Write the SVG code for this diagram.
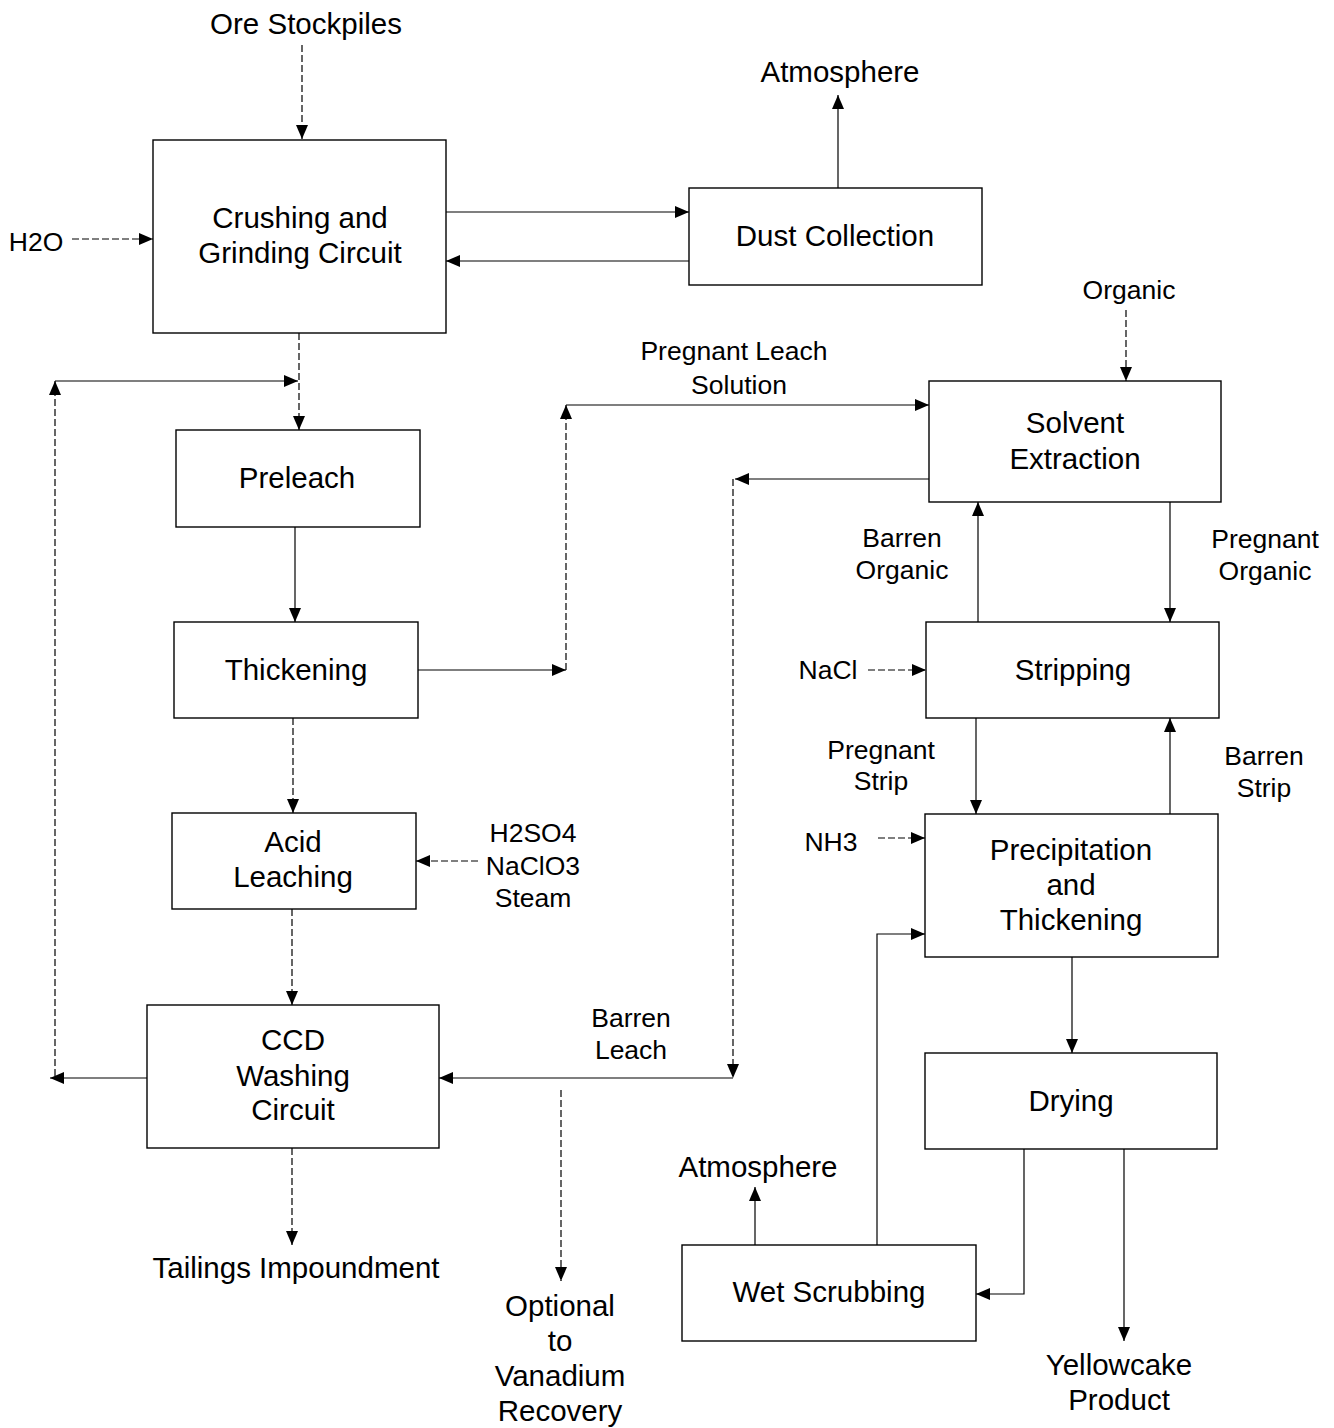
<svg xmlns="http://www.w3.org/2000/svg" width="1334" height="1428" viewBox="0 0 1334 1428">
<style>
.box{fill:#fff;stroke:#000;stroke-width:1.4}
.t{font-family:"Liberation Sans",Arial,sans-serif;font-size:29.5px;fill:#000;text-anchor:middle}
.l{font-family:"Liberation Sans",Arial,sans-serif;font-size:26.5px;fill:#000;text-anchor:middle}
.c{fill:none;stroke:#000;stroke-width:1.2}
.d{stroke-dasharray:7 3}
</style>
<defs>
<marker id="ah" markerUnits="userSpaceOnUse" markerWidth="15" markerHeight="12" refX="14" refY="6" orient="auto">
<path d="M0,0 L14,6 L0,12 z" fill="#000"/>
</marker>
</defs>
<rect width="1334" height="1428" fill="#fff"/>

<g id="connectors">
<line class="c d" x1="302" y1="45" x2="302" y2="139" marker-end="url(#ah)"/>
<line class="c d" x1="72" y1="239" x2="153" y2="239" marker-end="url(#ah)"/>
<line class="c" x1="446" y1="212" x2="689" y2="212" marker-end="url(#ah)"/>
<line class="c" x1="689" y1="261" x2="446" y2="261" marker-end="url(#ah)"/>
<line class="c" x1="838" y1="188" x2="838" y2="95" marker-end="url(#ah)"/>
<line class="c d" x1="299" y1="333" x2="299" y2="430" marker-end="url(#ah)"/>
<line class="c" x1="147" y1="1078" x2="50" y2="1078" marker-end="url(#ah)"/>
<line class="c d" x1="55" y1="1076" x2="55" y2="381" marker-end="url(#ah)"/>
<line class="c" x1="55" y1="381" x2="298" y2="381" marker-end="url(#ah)"/>
<line class="c" x1="295" y1="527" x2="295" y2="622" marker-end="url(#ah)"/>
<line class="c d" x1="293" y1="718" x2="293" y2="813" marker-end="url(#ah)"/>
<line class="c d" x1="292" y1="909" x2="292" y2="1005" marker-end="url(#ah)"/>
<line class="c d" x1="292" y1="1148" x2="292" y2="1245" marker-end="url(#ah)"/>
<line class="c d" x1="478" y1="861" x2="416" y2="861" marker-end="url(#ah)"/>
<line class="c" x1="418" y1="670" x2="566" y2="670" marker-end="url(#ah)"/>
<line class="c d" x1="566" y1="670" x2="566" y2="405" marker-end="url(#ah)"/>
<line class="c" x1="566" y1="405" x2="929" y2="405" marker-end="url(#ah)"/>
<line class="c" x1="929" y1="479" x2="735" y2="479" marker-end="url(#ah)"/>
<line class="c d" x1="733" y1="479" x2="733" y2="1078" marker-end="url(#ah)"/>
<line class="c" x1="733" y1="1078" x2="439" y2="1078" marker-end="url(#ah)"/>
<line class="c d" x1="561" y1="1090" x2="561" y2="1281" marker-end="url(#ah)"/>
<line class="c d" x1="1126" y1="310" x2="1126" y2="381" marker-end="url(#ah)"/>
<line class="c" x1="978" y1="622" x2="978" y2="502" marker-end="url(#ah)"/>
<line class="c" x1="1170" y1="502" x2="1170" y2="622" marker-end="url(#ah)"/>
<line class="c d" x1="868" y1="670" x2="926" y2="670" marker-end="url(#ah)"/>
<line class="c" x1="976" y1="718" x2="976" y2="814" marker-end="url(#ah)"/>
<line class="c" x1="1170" y1="814" x2="1170" y2="718" marker-end="url(#ah)"/>
<line class="c d" x1="878" y1="838" x2="925" y2="838" marker-end="url(#ah)"/>
<polyline class="c" points="877,1245 877,934 925,934" marker-end="url(#ah)"/>
<line class="c" x1="1072" y1="957" x2="1072" y2="1053" marker-end="url(#ah)"/>
<polyline class="c" points="1024,1149 1024,1294 976,1294" marker-end="url(#ah)"/>
<line class="c" x1="1124" y1="1149" x2="1124" y2="1341" marker-end="url(#ah)"/>
<line class="c" x1="755" y1="1245" x2="755" y2="1187" marker-end="url(#ah)"/>
</g>

<g id="crushing"><rect class="box" x="153" y="140" width="293" height="193"/>
<text class="t" x="300" y="228">Crushing and</text><text class="t" x="300" y="263">Grinding Circuit</text></g>
<g id="dust"><rect class="box" x="689" y="188" width="293" height="97"/>
<text class="t" x="835" y="246">Dust Collection</text></g>
<g id="preleach"><rect class="box" x="176" y="430" width="244" height="97"/>
<text class="t" x="297" y="488">Preleach</text></g>
<g id="thickening"><rect class="box" x="174" y="622" width="244" height="96"/>
<text class="t" x="296" y="680">Thickening</text></g>
<g id="acid"><rect class="box" x="172" y="813" width="244" height="96"/>
<text class="t" x="293" y="852">Acid</text><text class="t" x="293" y="887">Leaching</text></g>
<g id="ccd"><rect class="box" x="147" y="1005" width="292" height="143"/>
<text class="t" x="293" y="1050">CCD</text><text class="t" x="293" y="1086">Washing</text><text class="t" x="293" y="1120">Circuit</text></g>
<g id="sx"><rect class="box" x="929" y="381" width="292" height="121"/>
<text class="t" x="1075" y="433">Solvent</text><text class="t" x="1075" y="469">Extraction</text></g>
<g id="stripping"><rect class="box" x="926" y="622" width="293" height="96"/>
<text class="t" x="1073" y="680">Stripping</text></g>
<g id="precip"><rect class="box" x="925" y="814" width="293" height="143"/>
<text class="t" x="1071" y="860">Precipitation</text><text class="t" x="1071" y="895">and</text><text class="t" x="1071" y="930">Thickening</text></g>
<g id="drying"><rect class="box" x="925" y="1053" width="292" height="96"/>
<text class="t" x="1071" y="1111">Drying</text></g>
<g id="wetscrub"><rect class="box" x="682" y="1245" width="294" height="96"/>
<text class="t" x="829" y="1302">Wet Scrubbing</text></g>

<g id="labels">
<text class="t" x="306" y="34">Ore Stockpiles</text>
<text class="t" x="840" y="82">Atmosphere</text>
<text class="l" x="36" y="251">H2O</text>
<text class="l" x="1129" y="299">Organic</text>
<text class="l" x="734" y="360">Pregnant Leach</text>
<text class="l" x="739" y="394">Solution</text>
<text class="l" x="902" y="547">Barren</text>
<text class="l" x="902" y="579">Organic</text>
<text class="l" x="1265" y="548">Pregnant</text>
<text class="l" x="1265" y="580">Organic</text>
<text class="l" x="828" y="679">NaCl</text>
<text class="l" x="881" y="759">Pregnant</text>
<text class="l" x="881" y="790">Strip</text>
<text class="l" x="1264" y="765">Barren</text>
<text class="l" x="1264" y="797">Strip</text>
<text class="l" x="831" y="851">NH3</text>
<text class="l" x="533" y="842">H2SO4</text>
<text class="l" x="533" y="875">NaClO3</text>
<text class="l" x="533" y="907">Steam</text>
<text class="l" x="631" y="1027">Barren</text>
<text class="l" x="631" y="1059">Leach</text>
<text class="t" x="758" y="1177">Atmosphere</text>
<text class="t" x="296" y="1278">Tailings Impoundment</text>
<text class="t" x="560" y="1316">Optional</text>
<text class="t" x="560" y="1351">to</text>
<text class="t" x="560" y="1386">Vanadium</text>
<text class="t" x="560" y="1421">Recovery</text>
<text class="t" x="1119" y="1375">Yellowcake</text>
<text class="t" x="1119" y="1410">Product</text>
</g>
</svg>
